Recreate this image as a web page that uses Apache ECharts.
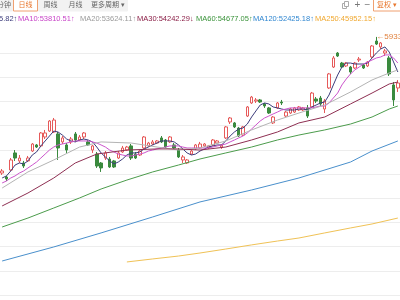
<!DOCTYPE html>
<html>
<head>
<meta charset="utf-8" />
<title>日线 K线</title>
<script src="https://cdn.jsdelivr.net/npm/echarts/dist/echarts.min.js"></script>
<style>
html, body { margin: 0; padding: 0; background: #fff; }
#main { width: 400px; height: 300px; }
</style>
</head>
<body>
<div id="main"></div>
<script type="text/javascript">
// 日K: [open, close, low, high]
var candles = [
  [48080, 48250, 47920, 48410], [47750, 47590, 47420, 47840], [48330, 49160, 48250, 49320], [49740, 49320, 49080, 49980],
  [49080, 49320, 48910, 49570], [48910, 48660, 48500, 49080], [49080, 49320, 48990, 49490], [49900, 50480, 49820, 50560],
  [50400, 50230, 50150, 50480], [50320, 51390, 50230, 51470], [51060, 51390, 50890, 51640], [51550, 52380, 51470, 52460],
  [51470, 52460, 51390, 52630], [51310, 50150, 49160, 51470], [50650, 50980, 50480, 51140], [50400, 49980, 49740, 50560],
  [50650, 50890, 50480, 51060], [51310, 50810, 50650, 51470], [50810, 51060, 50730, 51220], [51060, 51390, 50890, 51470],
  [50650, 50400, 50320, 50810], [49980, 50320, 49740, 50400], [49650, 48660, 48500, 49820], [48910, 48500, 48170, 48990],
  [49320, 49740, 49160, 49900], [49240, 48580, 48500, 49410], [49080, 48580, 48500, 49160], [49320, 49740, 49240, 49900],
  [49820, 50150, 49740, 50320], [49980, 50230, 49900, 50320], [50320, 49320, 49160, 50480], [49650, 49320, 49240, 49820],
  [49570, 49900, 49490, 49980], [50150, 51060, 50070, 51140], [50320, 50560, 50230, 50650], [50480, 50650, 50400, 50810],
  [50560, 50730, 50480, 50810], [50980, 50650, 50560, 51140], [50810, 50230, 50150, 50890], [50650, 51060, 50560, 51140],
  [50400, 50150, 50070, 50560], [49980, 49410, 49320, 50150], [49160, 49410, 48910, 49570], [48910, 49160, 48830, 49240],
  [49650, 49900, 49570, 49980], [50070, 50400, 49980, 50480], [50150, 50480, 50070, 50650], [50320, 50480, 50230, 50560],
  [50150, 50320, 50070, 50400], [50400, 50810, 50320, 50890], [50560, 50730, 50480, 50810], [50230, 50400, 50070, 50480],
  [50980, 51890, 50890, 51970], [52300, 52630, 52130, 52710], [52220, 51890, 51800, 52300], [51800, 51140, 51060, 51890],
  [51220, 51890, 51140, 51970], [52790, 53540, 52710, 53620], [53870, 54360, 53790, 54450], [54030, 54120, 53870, 54280],
  [54120, 53950, 53870, 54200], [53790, 53620, 53460, 53870], [53460, 53040, 52960, 53540], [52220, 52710, 52130, 52790],
  [53460, 53870, 53370, 53950], [53950, 53870, 53700, 54120], [52790, 53120, 52710, 53210], [53040, 53370, 52960, 53460],
  [53120, 53460, 53040, 53540], [53290, 53540, 53210, 53620], [53290, 53460, 53210, 53540], [53460, 52790, 52630, 53700],
  [53540, 54690, 53460, 54780], [54200, 54030, 53870, 54360], [54280, 53790, 53620, 54450], [53370, 54030, 53040, 54200],
  [55110, 56270, 55030, 56350], [56840, 57590, 56760, 57750], [58000, 57750, 57670, 58080], [57170, 56840, 56760, 57260],
  [56930, 57170, 56840, 57260], [56840, 56430, 56270, 56930], [56760, 57170, 56680, 57260], [57420, 57500, 57260, 57670],
  [57010, 56760, 56680, 57090], [56930, 57260, 56840, 57340], [57670, 58580, 57590, 58660], [58990, 58740, 58660, 59330],
  [58500, 58830, 58330, 58910], [58000, 58170, 57750, 58330], [57590, 56270, 56100, 57750], [55360, 54120, 53620, 55600],
  [55110, 55520, 54780, 55770]
];

var ma5 = [
  47670, 47840, 48250, 48740, 48910, 48830, 49080, 49570, 49820, 50320,
  50730, 51140, 51550, 51470, 51220, 50890, 50730, 50650, 50810, 50890,
  50810, 50650, 50230, 49740, 49410, 49080, 48830, 48990, 49240, 49570,
  49740, 49740, 49820, 50070, 50230, 50400, 50560, 50730, 50730, 50730,
  50650, 50400, 50070, 49740, 49570, 49650, 49900, 50070, 50230, 50320,
  50400, 50400, 50730, 51140, 51470, 51720, 51800, 52130, 52710, 53210,
  53700, 53870, 53790, 53540, 53460, 53370, 53290, 53290, 53290, 53370,
  53370, 53290, 53540, 53700, 53870, 53950, 54530, 55360, 56180, 56840,
  57170, 57170, 57090, 57090, 57090, 57170, 57590, 58000, 58330, 58500,
  58080, 57260, 56430
];

var ma10 = [
  47260, 47420, 47670, 47840, 48080, 48250, 48500, 48740, 48990, 49320,
  49650, 49980, 50230, 50400, 50480, 50560, 50650, 50730, 50730, 50730,
  50730, 50650, 50560, 50400, 50230, 49980, 49820, 49650, 49570, 49490,
  49490, 49570, 49650, 49740, 49900, 49980, 50070, 50150, 50230, 50320,
  50320, 50320, 50230, 50150, 50150, 50150, 50150, 50150, 50150, 50230,
  50320, 50400, 50480, 50650, 50810, 50980, 51140, 51390, 51720, 52050,
  52380, 52630, 52790, 52960, 53120, 53290, 53370, 53460, 53460, 53460,
  53460, 53460, 53460, 53540, 53620, 53620, 53870, 54280, 54690, 55360,
  55850, 56270, 56600, 56840, 57090, 57260, 57420, 57590, 57670, 57840,
  57840, 57590, 57170
];

// 长周期均线: [日序号, 值]
var ma20 = [[0, 46840], [6, 48170], [12, 49160], [18, 50230], [23, 50650], [30, 50560], [36, 50230],
  [41, 49980], [46, 50150], [52, 50730], [58, 51640], [64, 52460], [69, 53040], [75, 53700],
  [81, 54780], [86, 55770], [90, 56350], [92, 56600]];
var ma30 = [[0, 45360], [6, 46430], [12, 47670], [17, 48910], [22, 49650], [29, 49980], [36, 50070],
  [41, 50070], [46, 49980], [52, 50230], [58, 50810], [64, 51470], [69, 52220], [75, 52710],
  [81, 53790], [86, 54690], [90, 55440], [92, 55600]];
var ma60 = [[0, 43620], [6, 44360], [12, 45190], [18, 46020], [23, 46760], [29, 47500], [35, 48170],
  [41, 48740], [46, 49240], [52, 49740], [58, 50230], [64, 50810], [69, 51220], [75, 51640],
  [81, 52130], [86, 52710], [90, 53370], [92, 53620]];
var ma120 = [[0, 40810], [12, 41970], [23, 43130], [35, 44450], [46, 45690], [58, 46680],
  [69, 47670], [81, 48990], [86, 49900], [92, 50730]];
var ma250 = [[29, 40730], [35, 40980], [41, 41220], [46, 41470], [52, 41800], [58, 42140],
  [64, 42460], [69, 42710], [75, 43130], [81, 43540], [86, 43870], [92, 44360]];

var legendTexts = ['5.82↑', 'MA10:53810.51↑', 'MA20:53624.11↑', 'MA30:54242.29↓',
  'MA60:54677.05↑', 'MA120:52425.18↑', 'MA250:45952.15↑'];
var tabs = ['分钟', '日线', '周线', '月线', '更多周期 ▾'];

var days = candles.map(function (c, i) { return String(i + 1); });

var upColor = '#e65a5a';
var downColor = '#3a8a3e';
var maColors = ['#3d3d7c', '#cc55cc', '#b4b4b4', '#8e2f52', '#4c9c4c', '#4a90cc', '#f0c256'];
var legendColors = ['#3d3d7c', '#c844c8', '#9a9a9a', '#8a1e46', '#3c943c', '#2f86d0', '#f0a830'];
var legendX = [-1, 18, 80, 137, 196, 253, 315];
var FONT = '"Liberation Sans", Arial, "Noto Sans CJK SC", sans-serif';

var graphics = [];
// 周期切换
var tabBoxes = [[-12, 24], [13, 24], [38, 24], [63, 24], [88, 39]];
var tabTextX = [4, 25.5, 50.5, 75.5, 108];
tabs.forEach(function (t, i) {
  var sel = i === 1;
  graphics.push({
    type: 'rect', shape: { x: tabBoxes[i][0] + 0.5, y: -1, width: tabBoxes[i][1], height: 12 },
    style: { fill: sel ? '#fff' : '#f2f2f2', stroke: sel ? '#f0a070' : '#f2f2f2', lineWidth: 1 }
  });
  graphics.push({
    type: 'text', x: tabTextX[i], y: 5.5,
    style: { text: t, fill: sel ? '#e8762d' : '#666', font: '7px ' + FONT, textAlign: 'center', textVerticalAlign: 'middle' }
  });
});
// 右侧工具
graphics.push({ type: 'rect', shape: { x: 342.5, y: 3.5, width: 4, height: 5 }, style: { fill: 'none', stroke: '#aaa', lineWidth: 1 } });
graphics.push({ type: 'rect', shape: { x: 344.5, y: 1.5, width: 4, height: 5 }, style: { fill: '#fff', stroke: '#aaa', lineWidth: 1 } });
graphics.push({ type: 'text', x: 357.5, y: 5, style: { text: '+', fill: '#777', font: '10px ' + FONT, textAlign: 'center', textVerticalAlign: 'middle' } });
graphics.push({ type: 'text', x: 367.5, y: 5, style: { text: '−', fill: '#777', font: '10px ' + FONT, textAlign: 'center', textVerticalAlign: 'middle' } });
graphics.push({ type: 'rect', shape: { x: 373.5, y: -1, width: 30, height: 12 }, style: { fill: '#fff', stroke: '#f0a070', lineWidth: 1 } });
graphics.push({ type: 'text', x: 377, y: 5.5, style: { text: '复权', fill: '#e8762d', font: '7px ' + FONT, textVerticalAlign: 'middle' } });
graphics.push({ type: 'text', x: 393, y: 5.5, style: { text: '▾', fill: '#e8762d', font: '7px ' + FONT, textVerticalAlign: 'middle' } });
// 均线数值
legendTexts.forEach(function (t, i) {
  graphics.push({
    type: 'text', x: legendX[i], y: 18.5,
    style: { text: t, fill: legendColors[i], font: '7.5px ' + FONT, textVerticalAlign: 'middle' }
  });
});

function maLine(name, data, color) {
  return {
    name: name, type: 'line', data: data, symbol: 'none', smooth: false,
    connectNulls: true, silent: true,
    lineStyle: { width: 1, color: color }
  };
}

var myChart = echarts.init(document.getElementById('main'));
var option = {
  animation: false,
  backgroundColor: '#fff',
  graphic: graphics,
  grid: { left: -2.5, top: 28.8, width: 402.7, height: 266.2 },
  xAxis: {
    type: 'category', data: days, boundaryGap: true,
    axisLine: { show: false }, axisTick: { show: false }, axisLabel: { show: false }, splitLine: { show: false }
  },
  yAxis: {
    type: 'value', min: 38000, max: 60000, interval: 2000,
    axisLine: { show: false }, axisTick: { show: false }, axisLabel: { show: false },
    splitLine: { show: true, showMaxLine: false, lineStyle: { color: '#ededed', width: 1 } }
  },
  series: [
    {
      name: '日K', type: 'candlestick', data: candles, barWidth: 3,
      itemStyle: { color: '#fff', color0: downColor, borderColor: upColor, borderColor0: downColor, borderWidth: 1 },
      markPoint: {
        symbol: 'circle', symbolSize: 0,
        data: [{ type: 'max', valueDim: 'highest' }],
        label: {
          show: true, position: 'right', distance: 0, color: '#e0803c',
          fontSize: 8, fontFamily: FONT,
          formatter: function (p) { return '←' + p.value.toFixed(2); }
        }
      }
    },
    maLine('MA5', ma5, maColors[0]),
    maLine('MA10', ma10, maColors[1]),
    maLine('MA20', ma20, maColors[2]),
    maLine('MA30', ma30, maColors[3]),
    maLine('MA60', ma60, maColors[4]),
    maLine('MA120', ma120, maColors[5]),
    maLine('MA250', ma250, maColors[6])
  ]
};
myChart.setOption(option);
</script>
</body>
</html>
